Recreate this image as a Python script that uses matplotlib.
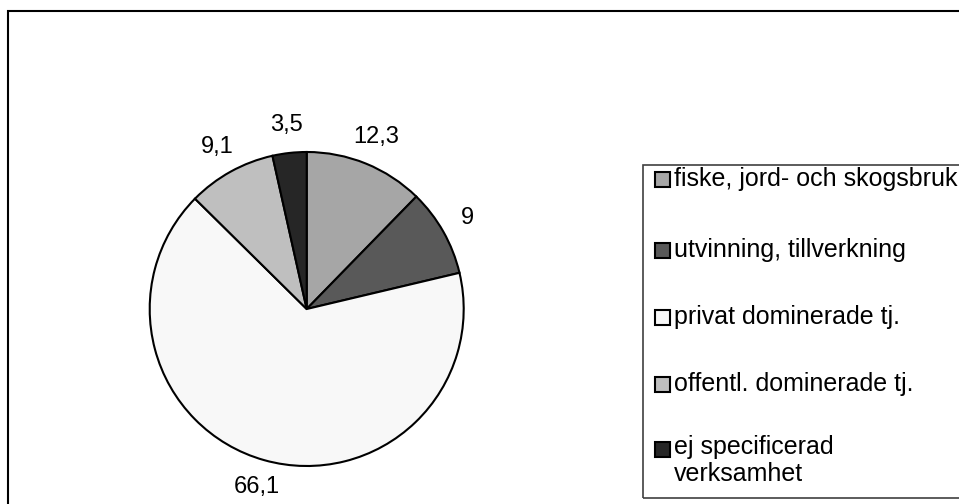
import matplotlib
matplotlib.use("Agg")
import matplotlib.pyplot as plt
from matplotlib.patches import Rectangle
import numpy as np

plt.rcParams['font.family'] = ['Liberation Sans', 'DejaVu Sans']

# shares per sector (percent)
sectors = ['fiske, jord- och skogsbruk', 'utvinning, tillverkning',
           'privat dominerade tj.', 'offentl. dominerade tj.',
           'ej specificerad\nverksamhet']
shares = [12.3, 9, 66.1, 9.1, 3.5]
value_labels = ['12,3', '9', '66,1', '9,1', '3,5']
colors = ['#a6a6a6', '#595959', '#f8f8f8', '#bfbfbf', '#262626']

W, H = 959, 504
fig = plt.figure(figsize=(W / 100, H / 100), dpi=100)

def px(x, y):
    # pixel (top-left origin) -> figure fraction
    return x / W, 1 - y / H

# outer frame, runs off the right and bottom edges
fig.patches.append(Rectangle(px(8, 540), 1000 / W, 529 / H, transform=fig.transFigure,
                             fill=False, edgecolor='black', linewidth=1.5, clip_on=False))

# pie
cx, cy, R = 306.7, 309, 157
ax = fig.add_axes([(cx - R) / W, (H - cy - R) / H, 2 * R / W, 2 * R / H])
wedges, _ = ax.pie(shares, colors=colors, startangle=90, counterclock=False,
                   wedgeprops=dict(edgecolor='black', linewidth=1.5))
ax.set_xlim(-1, 1)
ax.set_ylim(-1, 1)
ax.set_aspect('equal')
ax.axis('off')

# value labels outside the slices
frac = np.array(shares) / sum(shares)
mid = np.cumsum(frac) - frac / 2
for m, lab in zip(mid, value_labels):
    a = np.deg2rad(90 - 360 * m)
    ax.text(1.18 * np.cos(a), 1.18 * np.sin(a), lab, ha='center', va='center',
            fontsize=17, clip_on=False)

# legend box, runs off the right edge
fig.patches.append(Rectangle(px(643, 498), 400 / W, 333 / H, transform=fig.transFigure,
                             fill=False, edgecolor='#404040', linewidth=1.2, clip_on=False))
row_y = [179, 250, 317, 384, 449]
msz = 15
for yy, lab, col in zip(row_y, sectors, colors):
    fig.patches.append(Rectangle(px(655, yy + msz / 2), msz / W, msz / H,
                                 transform=fig.transFigure, facecolor=col,
                                 edgecolor='black', linewidth=1.5))
    x0, y0 = px(674, yy)
    if '\n' in lab:
        y0 = 1 - (yy - 14) / H
        fig.text(x0, y0, lab, ha='left', va='top', fontsize=18, linespacing=1.15)
    else:
        fig.text(x0, y0, lab, ha='left', va='center', fontsize=18)

fig.savefig('out.png', dpi=100)
